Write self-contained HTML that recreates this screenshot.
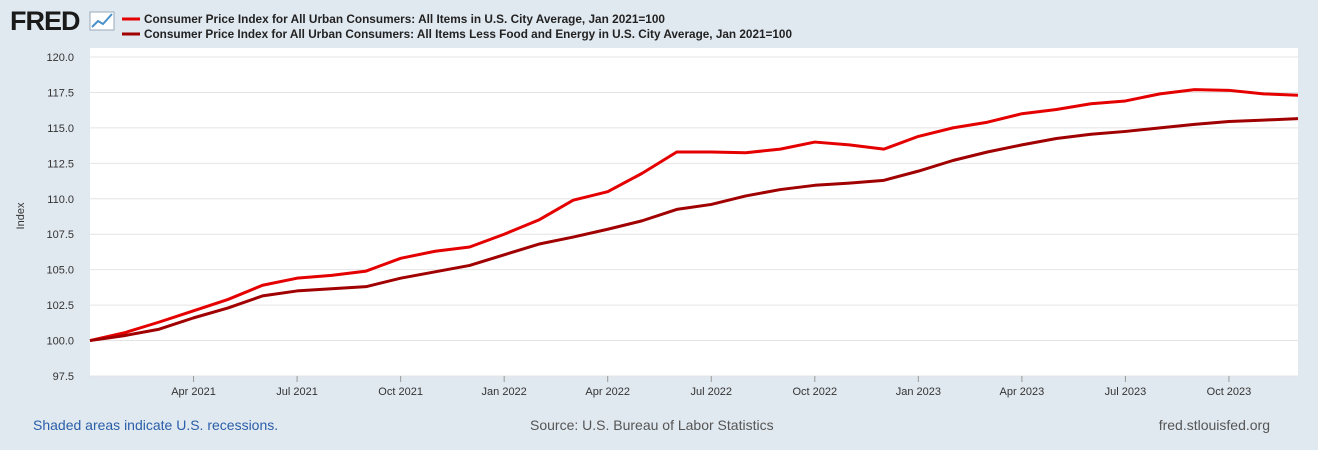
<!DOCTYPE html>
<html><head><meta charset="utf-8"><style>
body{margin:0;width:1318px;height:450px;background:#e1e9f0;font-family:"Liberation Sans",sans-serif;overflow:hidden}
svg{position:absolute;left:0;top:0}
</style></head><body>
<svg id="c" width="1318" height="450">
<text x="10" y="30" font-size="27" font-weight="bold" fill="#1a1a1a" font-family="Liberation Sans" letter-spacing="-1">FRED</text>
<g><rect x="90" y="12" width="24" height="18" fill="#fff" stroke="#9ab" stroke-width="1"/><polyline points="92,27 98,21 103,24 112,14" fill="none" stroke="#4a90c8" stroke-width="2"/></g>
<g>
<line x1="122" y1="19" x2="140" y2="19" stroke="#e50000" stroke-width="3"/>
<text x="144" y="23" font-size="11.6" font-weight="bold" fill="#222" textLength="521" lengthAdjust="spacingAndGlyphs">Consumer Price Index for All Urban Consumers: All Items in U.S. City Average, Jan 2021=100</text>
<line x1="122" y1="34" x2="140" y2="34" stroke="#a00000" stroke-width="3"/>
<text x="144" y="38" font-size="11.6" font-weight="bold" fill="#222" textLength="648" lengthAdjust="spacingAndGlyphs">Consumer Price Index for All Urban Consumers: All Items Less Food and Energy in U.S. City Average, Jan 2021=100</text>
</g>
<rect x="90" y="48" width="1208" height="328" fill="#fff"/>
<g id="grid"></g><g id="lines"></g>
<text transform="translate(24,216) rotate(-90)" text-anchor="middle" font-size="11" fill="#333">Index</text>
<text x="33" y="430" font-size="14" fill="#2a5ea8">Shaded areas indicate U.S. recessions.</text>
<text x="530" y="430" font-size="14" fill="#555">Source: U.S. Bureau of Labor Statistics</text>
<text x="1270" y="430" font-size="14" fill="#555" text-anchor="end">fred.stlouisfed.org</text>
</svg>
<script>
const yTicks=[97.5,100,102.5,105,107.5,110,112.5,115,117.5,120];
const xTickLabels=["Apr 2021","Jul 2021","Oct 2021","Jan 2022","Apr 2022","Jul 2022","Oct 2022","Jan 2023","Apr 2023","Jul 2023","Oct 2023"];
const xTickMonths=[3,6,9,12,15,18,21,24,27,30,33];
const cpi=[100,100.55,101.3,102.1,102.9,103.9,104.4,104.6,104.9,105.8,106.3,106.6,107.5,108.5,109.9,110.5,111.8,113.3,113.3,113.25,113.5,114.0,113.8,113.5,114.4,115.0,115.4,116.0,116.3,116.7,116.9,117.4,117.7,117.65,117.4,117.3];
const core=[100,100.35,100.8,101.6,102.3,103.15,103.5,103.65,103.8,104.4,104.85,105.3,106.05,106.8,107.3,107.85,108.45,109.25,109.6,110.2,110.65,110.95,111.1,111.3,111.95,112.7,113.3,113.8,114.25,114.55,114.75,115.0,115.25,115.45,115.55,115.65];
const NS='http://www.w3.org/2000/svg';
const X=m=>90+m*(1208/35);
const Y=v=>376-(v-97.5)/22.5*319;
const g=document.getElementById('grid'),L=document.getElementById('lines');
function mk(t,a,p){const e=document.createElementNS(NS,t);for(const k in a)e.setAttribute(k,a[k]);p.appendChild(e);return e;}
yTicks.forEach(v=>{
  const l=mk('line',{x1:90,x2:1298,y1:Y(v),y2:Y(v),stroke:'#e4e4e4'},g);
  
  
  const t=mk('text',{x:74,y:Y(v)+4,'text-anchor':'end','font-size':11,fill:'#333'},g);
  t.textContent=v.toFixed(1);
  
  
});
xTickMonths.forEach((m,i)=>{
  const l=mk('line',{x1:X(m),x2:X(m),y1:376,y2:382,stroke:'#999'},g);
  
  
  const t=mk('text',{x:X(m),y:395,'text-anchor':'middle','font-size':11,fill:'#333'},g);
  t.textContent=xTickLabels[i];
  
  
});
function line(d,c,n){
  const p=mk('polyline',{points:d.map((v,i)=>X(i)+','+Y(v)).join(' '),fill:'none',stroke:c,'stroke-width':3,'stroke-linejoin':'round'},L);
  
  
}
line(cpi,'#e50000','cpi-line');
line(core,'#a00000','core-cpi-line');
</script>
</body></html>
